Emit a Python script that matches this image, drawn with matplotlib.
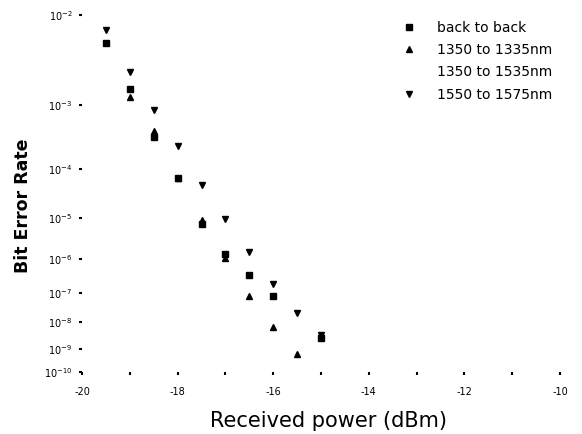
import numpy as np
import matplotlib
matplotlib.use("Agg")
import matplotlib.pyplot as plt
from matplotlib.ticker import FixedLocator, FuncFormatter, MultipleLocator

# ---- data ----
x_b2b = [-19.5, -19.0, -18.5, -18.0, -17.5, -17.0, -16.5, -16.0, -15.0]
ber_b2b = [5.4e-3, 1.6e-3, 3.4e-4, 6.7e-5, 7.4e-6, 1.33e-6, 3.5e-7, 7.9e-8, 2.6e-9]

x_1350 = [-19.0, -18.5, -18.0, -17.5, -17.0, -16.5, -16.0, -15.5]
ber_1350 = [1.27e-3, 4.2e-4, 6.7e-5, 9.3e-6, 1.04e-6, 7.9e-8, 6.8e-9, 6.0e-10]

x_1550 = [-19.5, -19.0, -18.5, -18.0, -17.5, -17.0, -16.5, -16.0, -15.5, -15.0]
ber_1550 = [7.2e-3, 2.6e-3, 8.5e-4, 2.45e-4, 4.9e-5, 9.6e-6, 1.5e-6, 1.9e-7, 2.2e-8, 3.3e-9]

labels = ["back to back", "1350 to 1335nm", "1350 to 1535nm", "1550 to 1575nm"]
ytick_exp = [2, 3, 4, 5, 6, 7, 8, 9, 10]
xticks_major = [-20, -18, -16, -14, -12, -10]


def fwd(b):
    b = np.clip(np.asarray(b, dtype=float), 1e-300, 0.999999)
    return -np.log10(-np.log10(b))


def inv(v):
    return 10.0 ** (-(10.0 ** (-np.asarray(v, dtype=float))))


fig = plt.figure(figsize=(5.82, 4.34), dpi=100)
ax = fig.add_axes([0.1409, 0.1429, 0.8213, 0.8225])
ax.set_yscale("function", functions=(fwd, inv))

ms = 5
ax.plot(x_b2b, ber_b2b, ls="none", marker="s", ms=ms, color="black", label=labels[0])
ax.plot(x_1350, ber_1350, ls="none", marker="^", ms=ms, color="black", label=labels[1])
ax.plot([], [], ls="none", marker="None", color="black", label=labels[2])
ax.plot(x_1550, ber_1550, ls="none", marker="v", ms=ms, color="black", label=labels[3])

ax.set_xlim(-20, -10)
ax.set_ylim(10.0 ** -10, 10.0 ** -2)

ax.yaxis.set_major_locator(FixedLocator([10.0 ** -k for k in ytick_exp]))
ax.yaxis.set_major_formatter(FuncFormatter(
    lambda v, p: r"$10^{%d}$" % int(round(np.log10(v)))))
ax.yaxis.set_minor_locator(FixedLocator([]))
ax.xaxis.set_major_locator(FixedLocator(xticks_major))
ax.xaxis.set_minor_locator(MultipleLocator(1))
ax.xaxis.set_major_formatter(FuncFormatter(lambda v, p: "%d" % v))

for s in ax.spines.values():
    s.set_visible(False)

ax.tick_params(axis="both", which="both", length=2, width=1.5, color="black",
               labelsize=7, direction="out")
ax.tick_params(axis="x", which="major", pad=9)
ax.tick_params(axis="y", which="major", pad=5)

ax.set_xlabel("Received power (dBm)", fontsize=15)
ax.xaxis.set_label_coords(0.515, -0.11)
ax.set_ylabel("Bit Error Rate", fontsize=12.5, fontweight="bold")
ax.yaxis.set_label_coords(-0.105, 0.465)

ax.legend(loc="upper left", bbox_to_anchor=(0.643, 1.0), frameon=False,
          fontsize=10, labelspacing=0.6, handletextpad=1.0, markerscale=1.0,
          borderaxespad=0.0)

fig.savefig("out.png", dpi=100)
